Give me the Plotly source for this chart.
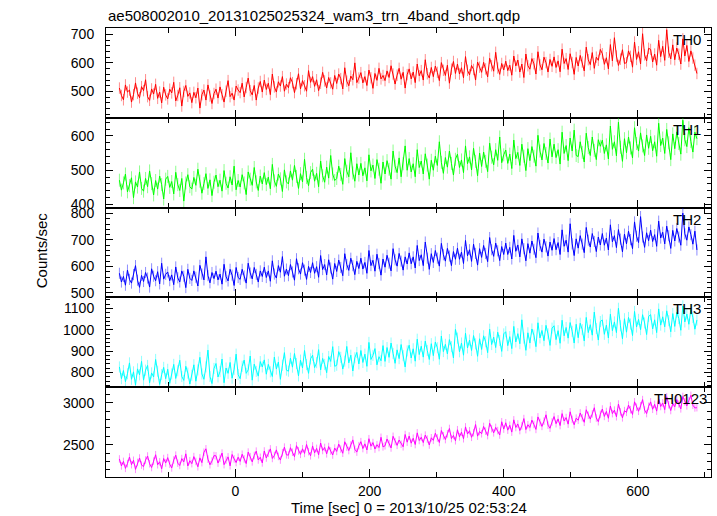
import numpy as np
import plotly.graph_objects as go
from plotly.subplots import make_subplots

# Bin start times (s), 3 s bins
time_sec = np.arange(-173, 689, 3)

th0 = [512, 486, 471, 523, 498, 505, 463, 489, 530, 494, 478, 517,
       503, 541, 482, 469, 509, 491, 525, 476, 498, 460, 515, 488,
       474, 508, 495, 532, 467, 486, 513, 449, 500, 521, 483, 495,
       461, 497, 478, 512, 442, 489, 505, 470, 523, 484, 458, 493,
       508, 477, 516, 489, 463, 501, 538, 482, 494, 470, 519, 505,
       496, 529, 481, 514, 547, 503, 488, 521, 470, 512, 535, 498,
       540, 507, 529, 489, 561, 516, 498, 534, 519, 552, 501, 526,
       513, 548, 531, 496, 527, 562, 509, 538, 520, 501, 573, 532,
       552, 518, 541, 503, 529, 567, 537, 512, 549, 530, 508, 556,
       528, 561, 545, 509, 583, 536, 520, 554, 541, 600, 531, 547,
       566, 530, 552, 521, 575, 548, 511, 563, 539, 581, 544, 556,
       538, 572, 549, 590, 561, 526, 557, 581, 543, 567, 512, 559,
       579, 544, 568, 531, 596, 555, 573, 540, 611, 562, 547, 584,
       552, 589, 567, 538, 601, 574, 556, 592, 529, 578, 605, 563,
       596, 561, 583, 548, 622, 574, 558, 591, 577, 540, 603, 585,
       567, 602, 579, 551, 616, 590, 571, 637, 582, 560, 598, 575,
       606, 573, 592, 557, 624, 589, 610, 568, 596, 549, 631, 590,
       578, 615, 597, 561, 639, 593, 576, 620, 601, 568, 612, 588,
       621, 584, 607, 569, 648, 598, 615, 577, 632, 601, 560, 619,
       589, 626, 603, 572, 655, 611, 594, 636, 581, 620, 609, 647,
       632, 595, 618, 579, 664, 607, 688, 624, 591, 613, 646, 598,
       601, 642, 623, 585, 673, 612, 639, 596, 702, 628, 607, 651,
       647, 603, 631, 592, 679, 622, 658, 609, 716, 637, 614, 663,
       611, 652, 630, 596, 684, 624, 661, 605, 642, 617, 592, 563]

th1 = [471, 442, 463, 489, 437, 455, 478, 420, 466, 451, 495, 447,
       439, 476, 452, 498, 461, 428, 470, 445, 483, 458, 416, 474,
       482, 450, 467, 431, 494, 458, 441, 476, 410, 463, 487, 452,
       445, 479, 456, 503, 468, 433, 461, 490, 447, 472, 426, 465,
       486, 452, 471, 439, 499, 462, 448, 481, 457, 512, 443, 470,
       451, 487, 463, 429, 495, 474, 456, 508, 466, 441, 483, 460,
       493, 458, 480, 446, 517, 469, 453, 489, 475, 438, 501, 466,
       460, 498, 471, 514, 482, 447, 490, 466, 532, 479, 455, 493,
       503, 468, 491, 452, 527, 484, 465, 509, 477, 543, 489, 470,
       476, 512, 488, 459, 534, 497, 481, 551, 492, 468, 519, 486,
       520, 484, 507, 469, 545, 498, 515, 476, 531, 503, 462, 524,
       489, 528, 503, 474, 556, 512, 493, 536, 481, 519, 571, 500,
       534, 495, 519, 481, 560, 508, 527, 489, 548, 515, 474, 529,
       500, 541, 514, 583, 523, 491, 537, 509, 556, 520, 486, 532,
       547, 508, 530, 493, 571, 519, 539, 501, 564, 526, 484, 550,
       511, 553, 526, 496, 579, 538, 516, 560, 529, 597, 522, 545,
       559, 520, 547, 505, 588, 534, 552, 514, 576, 541, 499, 563,
       528, 569, 541, 512, 602, 556, 530, 578, 549, 521, 591, 539,
       576, 537, 560, 518, 611, 549, 572, 528, 594, 556, 617, 543,
       540, 583, 552, 524, 608, 566, 543, 597, 558, 531, 589, 570,
       588, 549, 574, 533, 629, 561, 583, 542, 640, 567, 526, 592,
       551, 597, 565, 536, 624, 578, 556, 609, 571, 543, 603, 564,
       599, 557, 583, 541, 637, 572, 594, 549, 619, 580, 531, 606,
       563, 612, 578, 547, 646, 589, 569, 624, 584, 553, 611, 592]

th2 = [574, 541, 562, 529, 586, 551, 537, 569, 603, 548, 521, 566,
       543, 577, 556, 522, 591, 563, 546, 580, 534, 612, 552, 570,
       579, 546, 568, 531, 598, 557, 541, 583, 563, 520, 589, 555,
       547, 583, 559, 526, 604, 571, 549, 636, 565, 538, 577, 554,
       582, 549, 571, 533, 608, 561, 545, 589, 567, 528, 596, 558,
       551, 589, 564, 537, 612, 575, 553, 596, 570, 541, 583, 562,
       597, 558, 583, 544, 621, 571, 556, 603, 578, 637, 563, 590,
       565, 607, 579, 548, 629, 591, 571, 614, 586, 551, 600, 577,
       614, 574, 599, 559, 641, 588, 607, 568, 625, 594, 552, 611,
       581, 624, 596, 565, 648, 607, 585, 631, 603, 569, 619, 592,
       631, 590, 615, 574, 660, 603, 623, 582, 646, 611, 567, 628,
       597, 642, 612, 583, 667, 625, 601, 649, 620, 586, 636, 609,
       651, 610, 636, 594, 679, 622, 644, 603, 692, 631, 589, 648,
       615, 660, 631, 601, 687, 644, 620, 668, 639, 603, 656, 627,
       669, 627, 654, 611, 698, 640, 663, 619, 684, 649, 605, 667,
       634, 679, 649, 618, 709, 663, 638, 688, 659, 622, 675, 645,
       688, 645, 672, 628, 717, 657, 681, 636, 704, 667, 621, 686,
       650, 696, 665, 633, 726, 679, 654, 703, 674, 639, 692, 661,
       705, 663, 690, 645, 738, 676, 699, 654, 761, 685, 641, 704,
       669, 716, 684, 652, 747, 699, 673, 724, 694, 656, 711, 681,
       724, 680, 707, 662, 757, 693, 716, 671, 739, 703, 655, 722,
       685, 733, 701, 667, 768, 714, 690, 788, 711, 672, 727, 697,
       737, 694, 720, 676, 771, 707, 729, 685, 752, 716, 668, 736,
       696, 743, 711, 680, 801, 723, 699, 749, 720, 684, 733, 662]

th3 = [826, 771, 809, 757, 794, 845, 768, 803, 741, 817, 789, 852,
       764, 811, 833, 752, 798, 779, 861, 806, 744, 790, 824, 771,
       815, 749, 793, 838, 772, 808, 857, 781, 763, 829, 797, 746,
       787, 836, 759, 812, 871, 793, 768, 826, 905, 781, 748, 819,
       842, 779, 804, 863, 752, 821, 796, 847, 773, 815, 886, 790,
       771, 829, 858, 796, 812, 877, 764, 839, 805, 783, 851, 826,
       859, 792, 838, 803, 781, 872, 816, 849, 768, 834, 893, 811,
       806, 867, 825, 889, 842, 784, 858, 821, 903, 837, 796, 864,
       881, 823, 846, 907, 812, 866, 838, 799, 875, 852, 921, 829,
       834, 898, 871, 816, 853, 922, 845, 881, 807, 869, 894, 840,
       903, 847, 886, 829, 941, 861, 880, 912, 836, 874, 855, 926,
       852, 917, 871, 938, 889, 843, 906, 865, 931, 879, 826, 901,
       928, 868, 911, 853, 956, 884, 923, 872, 947, 903, 861, 935,
       879, 943, 916, 862, 971, 898, 932, 887, 954, 921, 868, 1002,
       961, 897, 938, 881, 984, 915, 952, 903, 973, 934, 876, 958,
       908, 972, 944, 893, 1003, 931, 966, 917, 989, 950, 899, 981,
       991, 926, 968, 912, 1016, 943, 982, 935, 1047, 961, 904, 986,
       938, 1004, 975, 921, 1033, 962, 997, 949, 1021, 981, 927, 1008,
       1019, 954, 996, 937, 1045, 972, 1011, 961, 1034, 993, 938, 1026,
       963, 1031, 1001, 948, 1058, 987, 1024, 975, 1083, 1006, 952, 1039,
       1046, 979, 1022, 962, 1073, 996, 1037, 987, 1101, 1019, 958, 1052,
       989, 1058, 1027, 973, 1086, 1013, 1049, 1001, 1071, 1032, 978, 1063,
       1071, 1004, 1047, 987, 1098, 1022, 1061, 1014, 1089, 1043, 991, 1076,
       1016, 1082, 1053, 998, 1112, 1037, 1074, 1026, 1095, 1058, 1003, 1046]

th0123 = [2331, 2248, 2302, 2219, 2276, 2354, 2263, 2315, 2207, 2289, 2342, 2258,
          2241, 2318, 2366, 2274, 2229, 2305, 2381, 2262, 2297, 2214, 2336, 2283,
          2347, 2269, 2224, 2318, 2376, 2281, 2253, 2335, 2296, 2392, 2247, 2310,
          2275, 2359, 2301, 2238, 2344, 2287, 2411, 2452, 2329, 2262, 2306, 2371,
          2368, 2282, 2339, 2401, 2263, 2317, 2356, 2249, 2384, 2331, 2288, 2352,
          2302, 2387, 2331, 2276, 2413, 2358, 2296, 2372, 2424, 2319, 2351, 2284,
          2426, 2342, 2398, 2451, 2337, 2372, 2439, 2361, 2318, 2405, 2472, 2380,
          2377, 2465, 2411, 2358, 2489, 2427, 2386, 2452, 2397, 2503, 2418, 2369,
          2486, 2403, 2457, 2381, 2521, 2432, 2468, 2392, 2479, 2425, 2378, 2461,
          2421, 2508, 2449, 2399, 2536, 2472, 2431, 2497, 2558, 2446, 2413, 2489,
          2537, 2455, 2511, 2438, 2572, 2483, 2526, 2449, 2501, 2467, 2589, 2475,
          2488, 2569, 2514, 2462, 2601, 2538, 2493, 2557, 2507, 2476, 2622, 2531,
          2604, 2519, 2578, 2503, 2642, 2551, 2589, 2526, 2615, 2568, 2497, 2583,
          2553, 2638, 2581, 2527, 2669, 2607, 2562, 2631, 2694, 2574, 2611, 2548,
          2679, 2594, 2651, 2572, 2713, 2628, 2667, 2589, 2644, 2741, 2603, 2658,
          2631, 2718, 2662, 2609, 2756, 2691, 2642, 2707, 2669, 2616, 2774, 2687,
          2762, 2674, 2733, 2651, 2797, 2706, 2748, 2669, 2724, 2812, 2681, 2739,
          2706, 2794, 2741, 2683, 2832, 2766, 2719, 2781, 2857, 2734, 2697, 2772,
          2836, 2751, 2808, 2729, 2871, 2783, 2824, 2746, 2893, 2802, 2738, 2817,
          2792, 2879, 2823, 2768, 2917, 2851, 2806, 2868, 2941, 2819, 2775, 2862,
          2926, 2838, 2897, 2816, 2962, 2871, 2913, 2834, 2985, 2892, 2821, 2907,
          2886, 2973, 2918, 2861, 3012, 2947, 2899, 2964, 3038, 2914, 2872, 2958,
          3011, 2923, 2982, 2901, 3047, 2956, 2998, 2919, 3071, 2977, 2908, 2991,
          2953, 3039, 2986, 2928, 3076, 3012, 2964, 3027, 3089, 2971, 2939, 2942]

band_names = ["TH0", "TH1", "TH2", "TH3", "TH0123"]
band_values = [th0, th1, th2, th3, th0123]
band_errors = [20, 19, 21, 26, 45]
band_colors = ["#ff0000", "#00ff00", "#0000ff", "#00ffff", "#ff00ff"]
band_err_colors = ["rgba(255,0,0,0.45)", "rgba(0,255,0,0.45)", "rgba(0,0,255,0.45)",
                   "rgba(0,255,255,0.45)", "rgba(255,0,255,0.45)"]
y_ranges = [[408, 722], [391, 653], [483, 822], [731, 1152], [2116, 3186]]
y_major = [100, 100, 100, 100, 500]
y_minor = [20, 20, 20, 20, 100]
label_xshift = [-8, -8, -8, -8, -2]

title_text = "ae508002010_20131025025324_wam3_trn_4band_short.qdp"
x_title = "Time [sec] 0 = 2013/10/25 02:53:24"
y_title = "Counts/sec"

FONT = "Liberation Sans, Arial, Helvetica, sans-serif"

fig = make_subplots(rows=5, cols=1, shared_xaxes=True, vertical_spacing=0)

for i in range(5):
    r = i + 1
    fig.add_trace(go.Scatter(
        x=time_sec, y=band_values[i], mode="lines",
        line=dict(color=band_colors[i], width=1),
        error_y=dict(type="constant", value=band_errors[i], color=band_err_colors[i],
                     thickness=1, width=0),
        showlegend=False, hoverinfo="skip"), row=r, col=1)
    fig.update_yaxes(range=y_ranges[i], dtick=y_major[i], tick0=0,
                     ticks="inside", ticklen=7, tickcolor="black", tickwidth=1,
                     minor=dict(dtick=y_minor[i], ticks="inside", ticklen=4,
                                tickcolor="black", tickwidth=1, showgrid=False),
                     showline=True, linecolor="black", linewidth=1, mirror="allticks",
                     showgrid=False, zeroline=False, ticklabelstandoff=8,
                     tickfont=dict(family=FONT, size=14, color="black"),
                     row=r, col=1)
    fig.update_xaxes(range=[-193, 709], dtick=200, tick0=0,
                     ticks="inside", ticklen=8, tickcolor="black", tickwidth=1,
                     minor=dict(dtick=100, ticks="inside", ticklen=5,
                                tickcolor="black", tickwidth=1, showgrid=False),
                     showline=True, linecolor="black", linewidth=1, mirror="allticks",
                     showgrid=False, zeroline=False,
                     showticklabels=(r == 5), ticklabelstandoff=1,
                     tickfont=dict(family=FONT, size=14, color="black"),
                     row=r, col=1)
    fig.add_annotation(text=band_names[i], xref=("x domain" if r == 1 else f"x{r} domain"),
                       yref=("y domain" if r == 1 else f"y{r} domain"),
                       x=1, y=1, xanchor="right", yanchor="top",
                       xshift=label_xshift[i], yshift=-1,
                       showarrow=False, font=dict(family=FONT, size=15, color="black"))

fig.add_annotation(text=title_text, xref="paper", yref="paper", x=0, y=1,
                   xanchor="left", yanchor="bottom", yshift=2, showarrow=False,
                   font=dict(family=FONT, size=15, color="black"))
fig.add_annotation(text=x_title, xref="paper", yref="paper", x=0.5, y=0,
                   xanchor="center", yanchor="top", yshift=-20, showarrow=False,
                   font=dict(family=FONT, size=15, color="black"))
fig.add_annotation(text=y_title, xref="paper", yref="paper", x=0, y=0.505,
                   xanchor="center", yanchor="middle", xshift=-65, textangle=-90,
                   showarrow=False, font=dict(family=FONT, size=15, color="black"))

fig.update_layout(width=717, height=516, margin=dict(l=106, r=6, t=28, b=39),
                  paper_bgcolor="white", plot_bgcolor="white", showlegend=False)

fig.write_html("out.html", config={"displayModeBar": False},
               post_script="document.body.style.margin='0';document.body.style.overflow='hidden';")
